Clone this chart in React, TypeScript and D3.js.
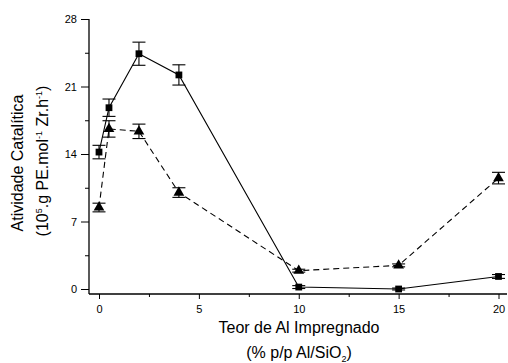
import { useEffect, useRef } from 'react'
import * as d3 from 'd3'

// Al content (% w/w Al/SiO2)
const alContent = [0, 0.5, 2, 4, 10, 15, 20]
// squares, solid line
const squareValues = [14.2, 18.8, 24.4, 22.2, 0.2, 0.0, 1.3]
const squareErrors = [0.7, 0.9, 1.2, 1.05, 0.15, 0.1, 0.2]
// triangles, dashed line
const triangleValues = [8.45, 16.6, 16.35, 10.0, 1.9, 2.45, 11.5]
const triangleErrors = [0.45, 0.85, 0.75, 0.5, 0.15, 0.15, 0.6]

const xTicks = [0, 5, 10, 15, 20]
const yTicks = [0, 7, 14, 21, 28]

const W = 508
const H = 363
const FONT = 'Liberation Sans, Arial, sans-serif'

export default function App() {
  const svgRef = useRef<SVGSVGElement>(null)

  useEffect(() => {
    const svg = d3.select(svgRef.current)
    svg.selectAll('*').remove()

    const x = d3.scaleLinear().domain([0, 20]).range([99, 498.5])
    const y = d3.scaleLinear().domain([0, 28]).range([289, 19])
    const axisLeft = 89
    const axisBottom = 294

    const g = svg.append('g')

    // Y axis
    g.append('g')
      .attr('transform', `translate(${axisLeft},0)`)
      .call(d3.axisLeft(y).tickValues(d3.range(3.5, 28, 7)).tickSize(4).tickFormat(() => ''))
      .call((ax) => ax.select('.domain').remove())
      .call((ax) => ax.selectAll('line').attr('stroke', '#000'))
    g.append('g')
      .attr('transform', `translate(${axisLeft},0)`)
      .call(d3.axisLeft(y).tickValues(yTicks).tickSize(8).tickPadding(4))
      .call((ax) => ax.select('.domain').remove())
      .call((ax) => ax.selectAll('line').attr('stroke', '#000'))
      .call((ax) => ax.selectAll('text').attr('font-family', FONT).attr('font-size', 11).attr('fill', '#000'))
    g.append('line')
      .attr('x1', axisLeft).attr('x2', axisLeft)
      .attr('y1', y(28)).attr('y2', axisBottom)
      .attr('stroke', '#000').attr('stroke-width', 1.3)

    // X axis
    g.append('g')
      .attr('transform', `translate(0,${axisBottom})`)
      .call(d3.axisBottom(x).tickValues(d3.range(2.5, 20, 5)).tickSize(3).tickFormat(() => ''))
      .call((ax) => ax.select('.domain').remove())
      .call((ax) => ax.selectAll('line').attr('stroke', '#000'))
    g.append('g')
      .attr('transform', `translate(0,${axisBottom})`)
      .call(d3.axisBottom(x).tickValues(xTicks).tickSize(5).tickPadding(6))
      .call((ax) => ax.select('.domain').remove())
      .call((ax) => ax.selectAll('line').attr('stroke', '#000'))
      .call((ax) => ax.selectAll('text').attr('font-family', FONT).attr('font-size', 11).attr('fill', '#000'))
    g.append('line')
      .attr('x1', axisLeft).attr('x2', 507)
      .attr('y1', axisBottom).attr('y2', axisBottom)
      .attr('stroke', '#000').attr('stroke-width', 1.3)

    // Axis titles
    g.append('text')
      .attr('x', 299).attr('y', 333)
      .attr('text-anchor', 'middle')
      .attr('font-family', FONT).attr('font-size', 16)
      .text('Teor de Al Impregnado')
    const xt2 = g.append('text')
      .attr('x', 299).attr('y', 358)
      .attr('text-anchor', 'middle')
      .attr('font-family', FONT).attr('font-size', 16)
    xt2.append('tspan').text('(% p/p Al/SiO')
    xt2.append('tspan').attr('font-size', 9).attr('dy', 4).text('2')
    xt2.append('tspan').attr('dy', -4).text(')')

    g.append('text')
      .attr('transform', 'translate(23,163) rotate(-90)')
      .attr('text-anchor', 'middle')
      .attr('font-family', FONT).attr('font-size', 16)
      .text('Atividade Catalítica')
    const yt2 = g.append('text')
      .attr('transform', 'translate(48,161) rotate(-90)')
      .attr('text-anchor', 'middle')
      .attr('font-family', FONT).attr('font-size', 16)
    yt2.append('tspan').text('(10')
    yt2.append('tspan').attr('font-size', 9).attr('dy', -6).text('5')
    yt2.append('tspan').attr('dy', 6).text('.g PE.mol')
    yt2.append('tspan').attr('font-size', 9).attr('dy', -6).text('-1')
    yt2.append('tspan').attr('dy', 6).text(' Zr.h')
    yt2.append('tspan').attr('font-size', 9).attr('dy', -6).text('-1')
    yt2.append('tspan').attr('dy', 6).text(')')

    const series = [
      { values: triangleValues, errors: triangleErrors, dash: '6,4', shape: d3.symbolTriangle, size: 50 },
      { values: squareValues, errors: squareErrors, dash: null, shape: d3.symbolSquare, size: 46 },
    ]

    series.forEach((s) => {
      const pts = alContent.map((a, i) => ({ a, v: s.values[i], e: s.errors[i] }))
      const line = d3.line<{ a: number; v: number }>()
        .x((d) => x(d.a))
        .y((d) => y(d.v))
      g.append('path')
        .datum(pts)
        .attr('fill', 'none')
        .attr('stroke', '#000')
        .attr('stroke-width', 1.1)
        .attr('stroke-dasharray', s.dash)
        .attr('d', line)

      // error bars
      const eb = g.append('g').attr('stroke', '#000').attr('stroke-width', 1.1)
      pts.forEach((d) => {
        const cx = x(d.a)
        eb.append('line').attr('x1', cx).attr('x2', cx).attr('y1', y(d.v - d.e)).attr('y2', y(d.v + d.e))
        eb.append('line').attr('x1', cx - 6.5).attr('x2', cx + 6.5).attr('y1', y(d.v + d.e)).attr('y2', y(d.v + d.e))
        eb.append('line').attr('x1', cx - 6.5).attr('x2', cx + 6.5).attr('y1', y(d.v - d.e)).attr('y2', y(d.v - d.e))
      })

      g.append('g')
        .selectAll('path')
        .data(pts)
        .join('path')
        .attr('transform', (d) => `translate(${x(d.a)},${y(d.v)})`)
        .attr('d', d3.symbol().type(s.shape).size(s.size)())
        .attr('fill', '#000')
    })
  }, [])

  return (
    <svg
      ref={svgRef}
      width={W}
      height={H}
      style={{ position: 'absolute', left: 0, top: 0, background: '#fff' }}
    />
  )
}
